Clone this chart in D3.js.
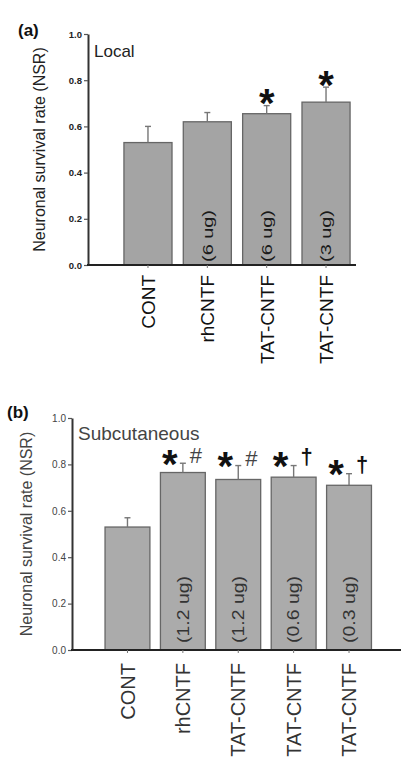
<!DOCTYPE html>
<html><head><meta charset="utf-8">
<script src="https://cdn.jsdelivr.net/npm/d3@7"></script>
<style>
html,body{margin:0;padding:0;background:#fff;}
svg{display:block;font-family:"Liberation Sans",Arial,sans-serif;}
</style></head>
<body>
<svg id="chart" width="401" height="760"></svg>
<script>
// ---- Data ----
const catsA = ["CONT", "rhCNTF", "TAT-CNTF", "TAT-CNTF"];
const doseA = ["", "(6 ug)", "(6 ug)", "(3 ug)"];
const valsA = [0.53, 0.62, 0.655, 0.705];
const errA  = [0.07, 0.04, 0.035, 0.065];
const sigA  = ["", "", "*", "*"];

const catsB = ["CONT", "rhCNTF", "TAT-CNTF", "TAT-CNTF", "TAT-CNTF"];
const doseB = ["", "(1.2 ug)", "(1.2 ug)", "(0.6 ug)", "(0.3 ug)"];
const valsB = [0.53, 0.765, 0.735, 0.745, 0.71];
const errB  = [0.04, 0.04, 0.06, 0.05, 0.05];
const sigB  = ["", "*", "*", "*", "*"];
const sig2B = ["", "#", "#", "\u2020", "\u2020"];

const yTicks = [0.0, 0.2, 0.4, 0.6, 0.8, 1.0];
const yTitle = "Neuronal survival rate (NSR)";

const svg = d3.select("#chart");

function panel(cfg) {
  const g = svg.append("g");
  const idx = cfg.cats.map((d, i) => i);
  const x = d3.scaleBand().domain(idx).range(cfg.xr).paddingInner(0.19).paddingOuter(0.1);
  const y = d3.scaleLinear().domain([0, 1]).range(cfg.yr);

  // bars
  g.selectAll("rect.bar").data(idx).join("rect")
    .attr("x", i => x(i)).attr("width", x.bandwidth())
    .attr("y", i => y(cfg.vals[i])).attr("height", i => y(0) - y(cfg.vals[i]))
    .attr("fill", cfg.fill).attr("stroke", "#666").attr("stroke-width", 1.3);

  // error bars
  idx.forEach(i => {
    const cx = x(i) + x.bandwidth() / 2;
    const top = y(cfg.vals[i] + cfg.errs[i]);
    g.append("line").attr("x1", cx).attr("x2", cx).attr("y1", y(cfg.vals[i])).attr("y2", top)
      .attr("stroke", "#777").attr("stroke-width", 1.4);
    g.append("line").attr("x1", cx - 3).attr("x2", cx + 3).attr("y1", top).attr("y2", top)
      .attr("stroke", "#777").attr("stroke-width", 1.4);
  });

  // dose labels inside bars
  idx.forEach(i => {
    if (!cfg.dose[i]) return;
    const cx = x(i) + x.bandwidth() / 2;
    g.append("text")
      .attr("transform", `translate(${cx + cfg.doseFs * 0.36},${y(0) - cfg.doseGap}) rotate(-90)`)
      .attr("font-size", cfg.doseFs).attr("fill", cfg.doseFill)
      .attr("textLength", cfg.doseLen[i]).attr("lengthAdjust", "spacingAndGlyphs")
      .text(cfg.dose[i]);
  });

  // significance
  idx.forEach(i => {
    const cx = x(i) + x.bandwidth() / 2;
    const top = y(cfg.vals[i] + cfg.errs[i]);
    if (cfg.sig[i]) {
      g.append("text").attr("x", cx + cfg.starDx).attr("y", top - cfg.starUp + 40 * 0.57)
        .attr("text-anchor", "middle").attr("font-size", 40).attr("font-weight", "bold")
        .attr("fill", "#111").text(cfg.sig[i]);
    }
    if (cfg.sig2 && cfg.sig2[i]) {
      const dag = cfg.sig2[i] !== "#";
      g.append("text").attr("x", cx + 13).attr("y", top - cfg.starUp + (dag ? 6 : 8))
        .attr("text-anchor", "middle").attr("font-size", dag ? 22 : 22)
        .attr("font-weight", dag ? "bold" : "normal")
        .attr("fill", dag ? "#111" : "#444").text(cfg.sig2[i]);
    }
  });

  // y axis
  const ya = g.append("g").attr("transform", `translate(${cfg.ax},0)`)
    .call(d3.axisLeft(y).tickValues(yTicks).tickFormat(d3.format(".1f")).tickSize(4).tickSizeOuter(0));
  ya.select(".domain").attr("stroke", "#333").attr("stroke-width", 2);
  ya.selectAll(".tick line").attr("stroke", "#555").attr("stroke-width", 1.2);
  ya.selectAll(".tick text").attr("font-size", cfg.tickFs).attr("font-weight", cfg.tickW)
    .attr("fill", cfg.tickFill).attr("x", -6).attr("font-family", "Liberation Sans, Arial, sans-serif");

  // x axis line
  g.append("line").attr("x1", cfg.ax - 1).attr("x2", cfg.axEnd).attr("y1", y(0)).attr("y2", y(0))
    .attr("stroke", "#222").attr("stroke-width", 2);
  // x ticks
  idx.forEach(i => {
    const cx = x(i) + x.bandwidth() / 2;
    g.append("line").attr("x1", cx).attr("x2", cx).attr("y1", y(0)).attr("y2", y(0) + 3)
      .attr("stroke", "#777").attr("stroke-width", 1);
  });

  // category labels
  idx.forEach(i => {
    const cx = x(i) + x.bandwidth() / 2;
    g.append("text")
      .attr("transform", `translate(${cx + cfg.catFs * 0.36},${y(0) + cfg.catGap}) rotate(-90)`)
      .attr("text-anchor", "end").attr("font-size", cfg.catFs).attr("fill", cfg.catFill)
      .attr("font-weight", cfg.catW)
      .text(cfg.cats[i]);
  });

  // y title
  g.append("text")
    .attr("transform", `translate(${cfg.titleX},${(cfg.yr[0] + cfg.yr[1]) / 2}) rotate(-90)`)
    .attr("text-anchor", "middle").attr("font-size", 16).attr("fill", cfg.textFill)
    .attr("font-weight", cfg.titleW)
    .text(yTitle);

  // panel letter + subtitle
  g.append("text").attr("x", cfg.letterX).attr("y", cfg.letterY).attr("font-size", 17)
    .attr("font-weight", "bold").attr("fill", "#111").text(cfg.letter);
  g.append("text").attr("x", cfg.ax + 6).attr("y", cfg.subY).attr("font-size", cfg.subFs)
    .attr("fill", cfg.textFill).text(cfg.sub);
}

panel({
  cats: catsA, dose: doseA, vals: valsA, errs: errA, sig: sigA, sig2: null,
  xr: [118, 356], yr: [265, 34], ax: 88, axEnd: 356, fill: "#a4a4a4",
  doseFs: 15, doseGap: 3, doseLen: [0, 52, 52, 52], doseFill: "#1a1a1a",
  starDx: 0, starUp: 11,
  tickFs: 9.5, tickW: "bold", tickFill: "#222",
  catFs: 19, catGap: 10, catFill: "#111", catW: "normal",
  titleX: 45, titleW: "normal", textFill: "#222",
  letter: "(a)", letterX: 18, letterY: 36, sub: "Local", subY: 57, subFs: 17
});

panel({
  cats: catsB, dose: doseB, vals: valsB, errs: errB, sig: sigB, sig2: sig2B,
  xr: [99.5, 377], yr: [650, 418], ax: 72, axEnd: 401, fill: "#ababab",
  doseFs: 16, doseGap: 7, doseLen: [0, 67, 67, 67, 67], doseFill: "#333",
  starDx: -13, starUp: 8,
  tickFs: 10, tickW: "normal", tickFill: "#444",
  catFs: 20, catGap: 13, catFill: "#333", catW: "normal",
  titleX: 32, titleW: "normal", textFill: "#444",
  letter: "(b)", letterX: 7, letterY: 418, sub: "Subcutaneous", subY: 440, subFs: 19
});
</script>
</body></html>
